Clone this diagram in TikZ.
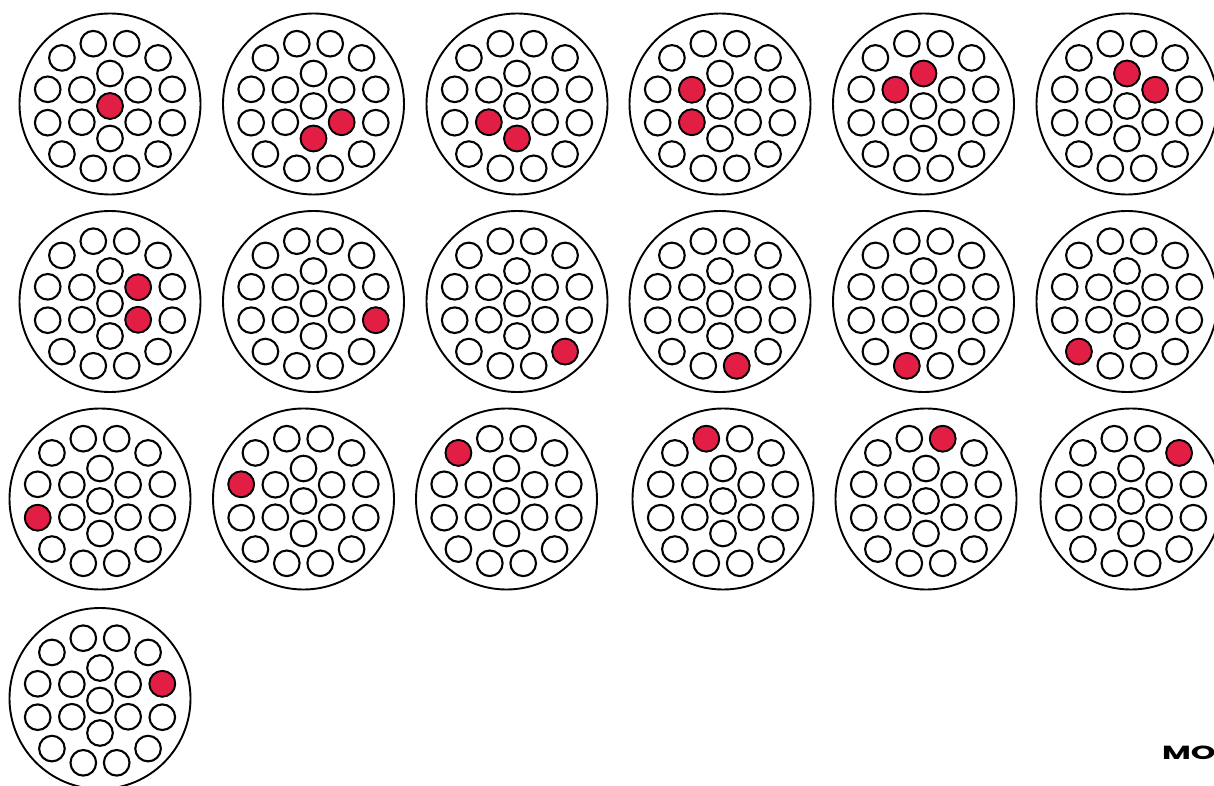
\documentclass[tikz,border=0pt]{standalone}
\usepackage{fontspec}
\newfontfamily\logofont{Poppins}
\definecolor{signal}{RGB}{226,30,68}

\tikzset{
  jacket/.style={line width=1.9pt},
  wire/.style={line width=2.1pt, fill=white},
  hot/.style={line width=1.6pt, fill=signal},
}

% one bundle: centre x, centre y, list of the red strands
\newcommand{\cablex}[3]{%
  \begin{scope}[shift={(#1,#2)}]
    \draw[jacket] (0,0) circle (90.5);
    \begin{scope}[yshift=-2pt]
      \coordinate (c) at (0,0);
      \foreach \a in {30,90,...,330}
        \coordinate (i\a) at (\a:32.5);
      \foreach \a/\rad in {15/64.5,45/68,75/64.5,105/64.5,135/68,165/64.5,
                           195/64.5,225/68,255/64.5,285/64.5,315/68,345/64.5}
        \coordinate (o\a) at (\a:\rad);
      \foreach \p in {c,i30,i90,i150,i210,i270,i330,o15,o45,o75,o105,o135,
                      o165,o195,o225,o255,o285,o315,o345}
        \draw[wire] (\p) circle (12.8);
      \foreach \p in {#3}
        \draw[hot] (\p) circle (12.8);
    \end{scope}
  \end{scope}}

\begin{document}
\begin{tikzpicture}[x=1pt,y=1pt]
\useasboundingbox (0,0) rectangle (1214,785);

\cablex{110}{681}{c}
\cablex{313.5}{681}{i330,i270}
\cablex{517}{681}{i210,i270}
\cablex{720}{681}{i150,i210}
\cablex{923.5}{681}{i150,i90}
\cablex{1127}{681}{i90,i30}

\cablex{110}{483.5}{i30,i330}
\cablex{313.5}{483.5}{o345}
\cablex{517}{483.5}{o315}
\cablex{720}{483.5}{o285}
\cablex{923.5}{483.5}{o255}
\cablex{1127}{483.5}{o225}

\cablex{100}{286}{o195}
\cablex{303.5}{286}{o165}
\cablex{506.5}{286}{o135}
\cablex{723}{286}{o105}
\cablex{926}{286}{o75}
\cablex{1131}{286}{o45}

\cablex{100}{86.5}{o15}

\node[anchor=south west, inner sep=0pt] (brand) at (1162,25.5)
  {\logofont\bfseries\fontsize{19}{19}\selectfont\scalebox{1.65}[1]{MO}};
\end{tikzpicture}
\end{document}
